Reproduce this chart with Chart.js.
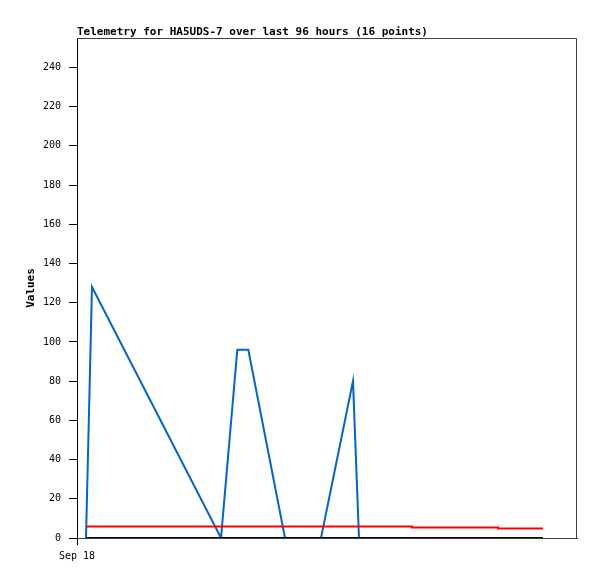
<!DOCTYPE html>
<html>
<head>
<meta charset="utf-8">
<script src="https://cdn.jsdelivr.net/npm/chart.js@4"></script>
<style>
  html, body { margin: 0; padding: 0; background: #fff; }
  #wrap { width: 597px; height: 579px; }
</style>
</head>
<body>
<div id="wrap"><canvas id="myChart" width="597" height="579"></canvas></div>
<script>
// hours since Sep 18 00:00
const hours = [1.73, 2.88, 27.65, 30.78, 32.89, 39.94, 46.85, 52.99, 54.14, 64.32, 80.83, 89.47];
const blueValues = [0, 128, 0, 96, 96, 0, 0, 80, 0, 0, 0, 0];
const redValues = [5.9, 5.9, 5.9, 5.9, 5.9, 5.9, 5.9, 5.9, 5.9, 5.4, 4.9, 4.9];
const blackValues = [0, 0, 0, 0, 0, 0, 0, 0, 0, 0, 0, 0];

const xTickHours = [0];
const xTickLabels = ["Sep 18"];
const yTicks = [0, 20, 40, 60, 80, 100, 120, 140, 160, 180, 200, 220, 240];

function toPoints(vals) {
  return vals.map(function(v, i) { return {x: hours[i], y: v}; });
}

// gray frame on top and right of the plot
const frame = {
  id: 'frame',
  beforeDatasetsDraw: function(chart) {
    const a = chart.chartArea;
    const ctx = chart.ctx;
    ctx.save();
    ctx.strokeStyle = '#404040';
    ctx.lineWidth = 1;
    ctx.beginPath();
    ctx.moveTo(a.left, a.top + 0.5);
    ctx.lineTo(a.right - 0.5, a.top + 0.5);
    ctx.lineTo(a.right - 0.5, a.bottom);
    ctx.stroke();
    ctx.restore();
  }
};

const data = {
  datasets: [
    {
      label: 'zero',
      data: toPoints(blackValues),
      borderColor: '#000000',
      borderWidth: 2
    },
    {
      label: 'red',
      data: toPoints(redValues),
      borderColor: '#ff0000',
      borderWidth: 2,
      stepped: true
    },
    {
      label: 'blue',
      data: toPoints(blueValues),
      borderColor: '#0066cc',
      borderWidth: 2
    }
  ]
};

const config = {
  type: 'line',
  data: data,
  plugins: [frame],
  options: {
    responsive: false,
    animation: false,
    layout: { padding: { left: 25, right: 20, top: 25, bottom: 12 } },
    elements: { point: { radius: 0 }, line: { tension: 0, fill: false } },
    plugins: {
      legend: { display: false },
      tooltip: { enabled: false },
      title: {
        display: true,
        text: 'Telemetry for HA5UDS-7 over last 96 hours (16 points)',
        align: 'start',
        fullSize: false,
        color: '#000',
        font: { family: 'DejaVu Sans Mono', size: 11, weight: 'bold', lineHeight: 1 },
        padding: { top: 2, bottom: 0 }
      }
    },
    scales: {
      x: {
        type: 'linear',
        min: 0,
        max: 96,
        afterBuildTicks: function(axis) {
          axis.ticks = xTickHours.map(function(h) { return {value: h}; });
        },
        ticks: {
          color: '#000',
          font: { family: 'DejaVu Sans Mono', size: 10 },
          padding: 5,
          maxRotation: 0,
          callback: function(v) {
            const i = xTickHours.indexOf(v);
            return i >= 0 ? xTickLabels[i] : '';
          }
        },
        grid: {
          drawOnChartArea: false,
          tickLength: 7,
          color: function(c) { return c.tick && xTickHours.indexOf(c.tick.value) >= 0 ? '#000' : 'rgba(0,0,0,0)'; }
        },
        border: { color: '#404040', width: 1 }
      },
      y: {
        min: 0,
        max: 255,
        afterBuildTicks: function(axis) {
          axis.ticks = yTicks.map(function(v) { return {value: v}; });
        },
        afterFit: function(axis) { axis.width = 52; },
        title: {
          display: true,
          text: 'Values',
          color: '#000',
          font: { family: 'DejaVu Sans Mono', size: 11, weight: 'bold' },
          padding: { top: 0, bottom: 5 }
        },
        ticks: {
          color: '#000',
          font: { family: 'DejaVu Sans Mono', size: 10 },
          padding: 8
        },
        grid: { drawOnChartArea: false, tickLength: 8, color: '#000' },
        border: { color: '#000', width: 1 }
      }
    }
  }
};

var myChart = new Chart(document.getElementById('myChart'), config);
</script>
</body>
</html>
